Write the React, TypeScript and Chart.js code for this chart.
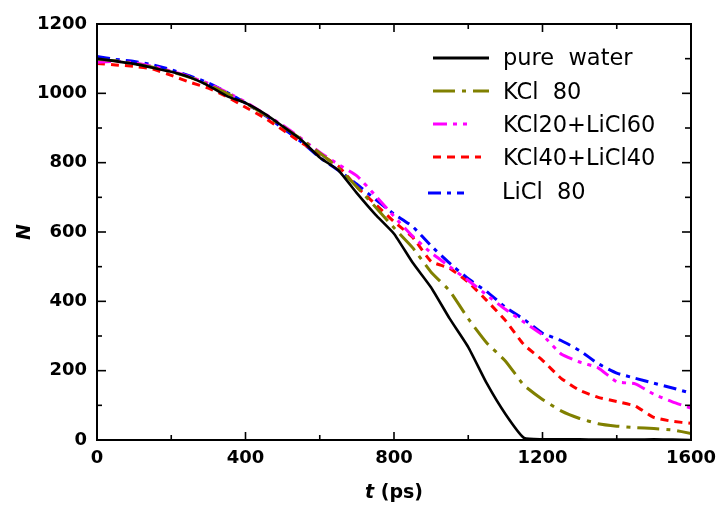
import React, { useEffect, useRef } from "react";
import { Chart, registerables } from "chart.js";
Chart.register(...registerables);

// time (ps)
const times = [0, 50, 100, 150, 200, 250, 300, 350, 400, 450, 500, 550, 600, 650, 700, 750, 800, 850, 900, 950, 1000, 1050, 1100, 1150, 1200, 1250, 1300, 1350, 1400, 1450, 1500, 1550, 1600];

const pureWater = [1100, 1093, 1085, 1074, 1062, 1046, 1022, 992, 972, 942, 905, 866, 815, 778, 712, 650, 595, 512, 440, 350, 268, 163, 75, 6, 2, 2, 2, 1, 1, 1, 2, 1, 0];
const kcl80 = [1098, 1094, 1085, 1075, 1062, 1046, 1025, 1000, 972, 940, 905, 868, 828, 785, 730, 672, 612, 555, 484, 430, 350, 280, 228, 158, 117, 84, 62, 47, 40, 36, 33, 29, 19];
const kcl20licl60 = [1090, 1092, 1088, 1078, 1064, 1048, 1028, 1003, 975, 942, 908, 870, 830, 795, 762, 705, 645, 588, 540, 500, 460, 418, 377, 340, 303, 248, 225, 208, 168, 162, 132, 110, 92];
const kcl40licl40 = [1086, 1082, 1078, 1070, 1052, 1032, 1015, 990, 960, 930, 895, 858, 825, 790, 730, 680, 630, 585, 515, 495, 455, 402, 345, 275, 230, 178, 143, 123, 111, 98, 65, 54, 48];
const licl80 = [1106, 1098, 1092, 1082, 1068, 1050, 1030, 1003, 972, 938, 900, 860, 815, 778, 738, 694, 652, 616, 560, 510, 465, 428, 383, 348, 308, 287, 258, 220, 193, 178, 164, 150, 135];

const seriesNames = ["pure  water", "KCl  80", "KCl20+LiCl60", "KCl40+LiCl40", "LiCl  80"];
const xTicks = [0, 400, 800, 1200, 1600];
const yTicks = [0, 200, 400, 600, 800, 1000, 1200];

const seriesData = [pureWater, kcl80, kcl20licl60, kcl40licl40, licl80];
const colors = ["#000000", "#808000", "#ff00ff", "#ff0000", "#0000ff"];
const dashes: number[][] = [[], [22, 7, 4, 7], [14, 6, 4, 6, 4, 6], [8, 6], [13, 6, 4, 6]];
const widths = [2.6, 3, 3, 3, 3];

const decorPlugin = {
  id: "decor",
  afterDatasetsDraw(chart: any) {
    const { ctx, chartArea: a, scales } = chart;
    const xs = scales.x;
    const ys = scales.y;
    ctx.save();
    ctx.strokeStyle = "#000";
    ctx.lineWidth = 2;
    ctx.setLineDash([]);
    ctx.strokeRect(a.left, a.top, a.right - a.left, a.bottom - a.top);
    const seg = (x1: number, y1: number, x2: number, y2: number) => {
      ctx.beginPath();
      ctx.moveTo(x1, y1);
      ctx.lineTo(x2, y2);
      ctx.stroke();
    };
    ctx.lineWidth = 1.6;
    for (let i = 0; i < xTicks.length; i++) {
      const v = xTicks[i];
      const px = xs.getPixelForValue(v);
      seg(px, a.bottom, px, a.bottom - 8);
      seg(px, a.top, px, a.top + 8);
      if (i < xTicks.length - 1) {
        const m = xs.getPixelForValue((v + xTicks[i + 1]) / 2);
        seg(m, a.bottom, m, a.bottom - 5);
        seg(m, a.top, m, a.top + 5);
      }
    }
    for (let i = 0; i < yTicks.length; i++) {
      const v = yTicks[i];
      const py = ys.getPixelForValue(v);
      seg(a.left, py, a.left + 9, py);
      seg(a.right, py, a.right - 9, py);
      if (i < yTicks.length - 1) {
        const m = ys.getPixelForValue((v + yTicks[i + 1]) / 2);
        seg(a.left, m, a.left + 5, m);
        seg(a.right, m, a.right - 6, m);
      }
    }

    // legend
    const rows = [
      { ly: 58, ty: 65, x1: 433, x2: 489, tx: 503 },
      { ly: 91, ty: 98.5, x1: 433, x2: 489, tx: 503 },
      { ly: 124, ty: 131.5, x1: 433, x2: 472, tx: 503 },
      { ly: 157, ty: 165, x1: 433, x2: 481, tx: 503 },
      { ly: 193, ty: 198.5, x1: 428, x2: 464, tx: 502 },
    ];
    ctx.font = "22.5px 'DejaVu Sans'";
    ctx.textAlign = "left";
    ctx.textBaseline = "alphabetic";
    ctx.fillStyle = "#000";
    rows.forEach((r, i) => {
      ctx.strokeStyle = colors[i];
      ctx.lineWidth = 3;
      ctx.setLineDash(dashes[i]);
      seg(r.x1, r.ly, r.x2, r.ly);
      ctx.setLineDash([]);
      ctx.fillText(seriesNames[i], r.tx, r.ty);
    });

    // axis titles
    ctx.fillStyle = "#000";
    const cx = (a.left + a.right) / 2;
    ctx.font = "italic bold 19px 'DejaVu Sans'";
    const w1 = ctx.measureText("t").width;
    ctx.font = "bold 19px 'DejaVu Sans'";
    const w2 = ctx.measureText(" (ps)").width;
    const sx = cx - (w1 + w2) / 2;
    ctx.font = "italic bold 19px 'DejaVu Sans'";
    ctx.fillText("t", sx, 498);
    ctx.font = "bold 19px 'DejaVu Sans'";
    ctx.fillText(" (ps)", sx + w1, 498);

    ctx.save();
    ctx.translate(30, (a.top + a.bottom) / 2);
    ctx.rotate(-Math.PI / 2);
    ctx.font = "italic bold 19px 'DejaVu Sans'";
    ctx.textAlign = "center";
    ctx.fillText("N", 0, 0);
    ctx.restore();

    ctx.restore();
  },
};

export default function App() {
  const ref = useRef<HTMLCanvasElement>(null);
  useEffect(() => {
    if (!ref.current) return;
    const chart = new Chart(ref.current, {
      type: "line",
      data: {
        datasets: seriesData.map((arr, i) => ({
          label: seriesNames[i],
          data: arr.map((v, j) => ({ x: times[j], y: v })),
          borderColor: colors[i],
          borderWidth: widths[i],
          borderDash: dashes[i],
          pointRadius: 0,
          fill: false,
          tension: 0.15,
        })),
      },
      options: {
        responsive: false,
        animation: false,
        layout: { padding: { top: 24, right: 26, left: 0, bottom: 0 } },
        plugins: { legend: { display: false }, tooltip: { enabled: false } },
        scales: {
          x: {
            type: "linear",
            min: 0,
            max: 1600,
            afterBuildTicks: (s: any) => {
              s.ticks = xTicks.map((v) => ({ value: v }));
            },
            afterFit: (s: any) => {
              s.height = 66;
              s.paddingLeft = 0;
              s.paddingRight = 0;
            },
            grid: { display: false, drawTicks: false },
            border: { display: false },
            ticks: {
              color: "#000",
              padding: 8,
              maxRotation: 0,
              autoSkip: false,
              callback: (v: any) => String(v),
              font: { family: "'DejaVu Sans'", weight: "bold", size: 18 },
            },
          },
          y: {
            type: "linear",
            min: 0,
            max: 1200,
            afterBuildTicks: (s: any) => {
              s.ticks = yTicks.map((v) => ({ value: v }));
            },
            afterFit: (s: any) => {
              s.width = 97;
              s.paddingTop = 0;
              s.paddingBottom = 0;
            },
            grid: { display: false, drawTicks: false },
            border: { display: false },
            ticks: {
              color: "#000",
              padding: 10,
              autoSkip: false,
              callback: (v: any) => String(v),
              font: { family: "'DejaVu Sans'", weight: "bold", size: 18 },
            },
          },
        },
      },
      plugins: [decorPlugin],
    });
    return () => chart.destroy();
  }, []);
  return (
    <div style={{ position: "fixed", left: 0, top: 0, width: 717, height: 506, background: "#fff" }}>
      <canvas ref={ref} width={717} height={506} style={{ display: "block" }} />
    </div>
  );
}
